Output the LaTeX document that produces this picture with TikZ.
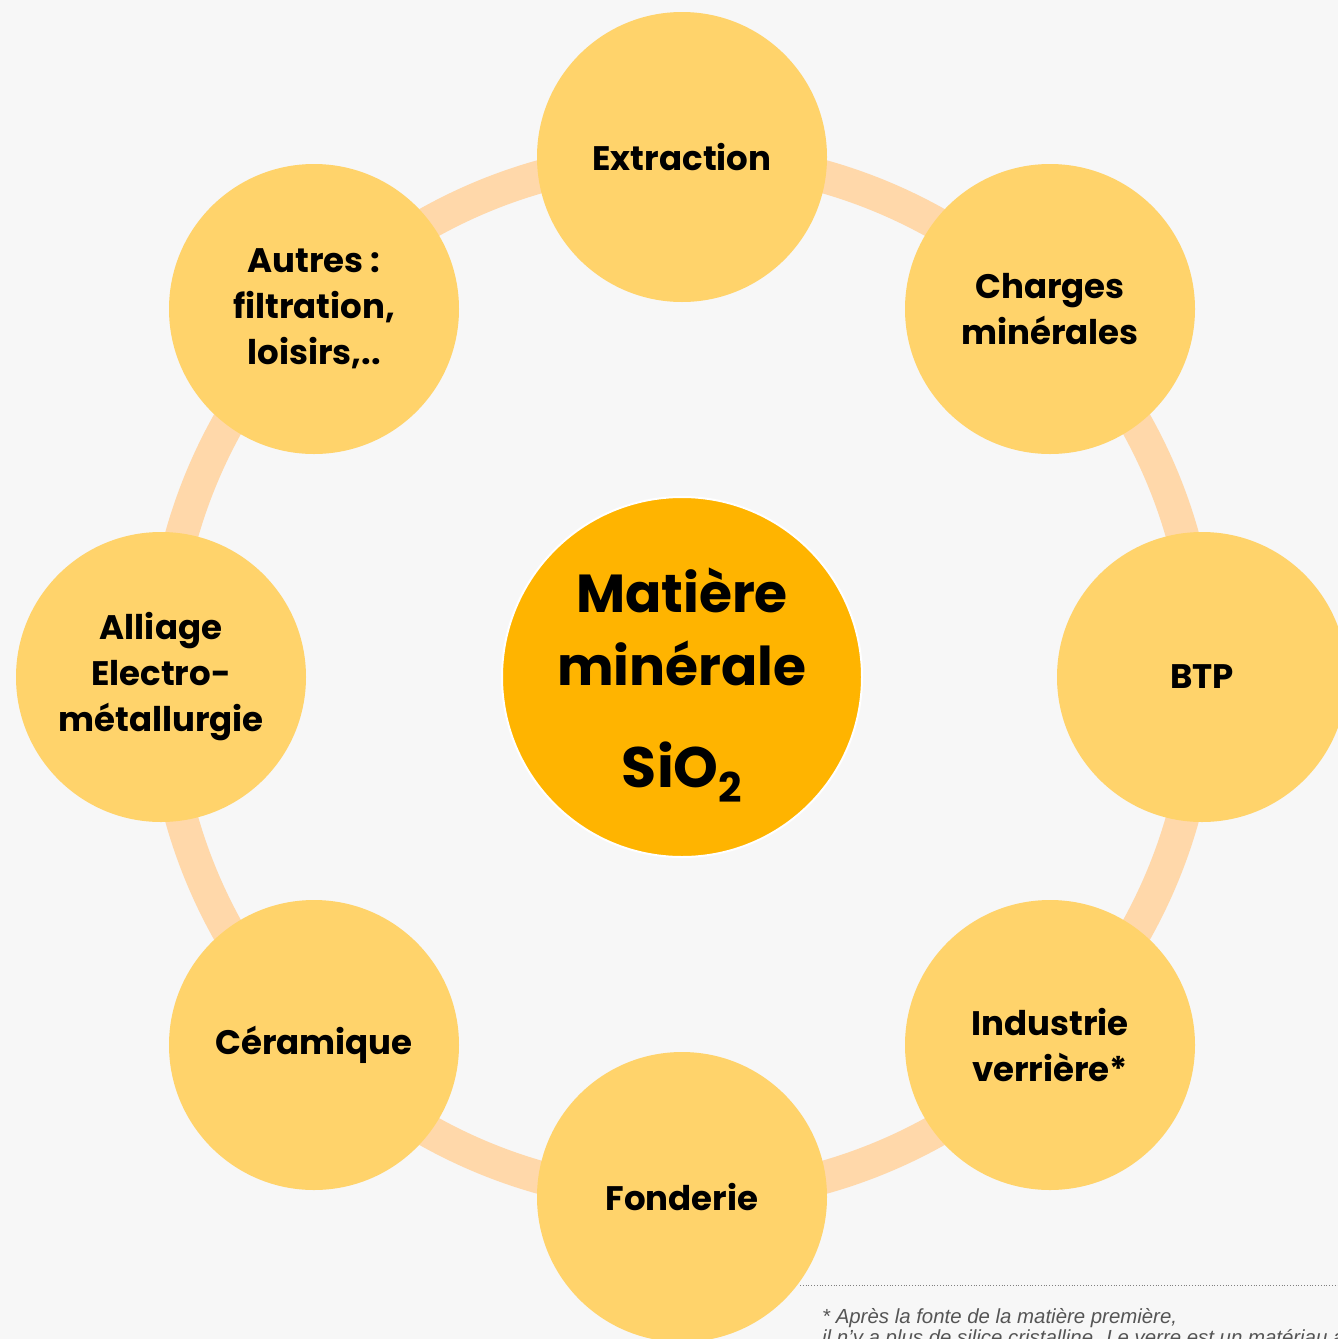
\documentclass[tikz,border=0pt]{standalone}
\usepackage{fontspec}
\setmainfont{Poppins}
\newfontfamily\notefont{Liberation Sans}
\definecolor{bgc}{RGB}{247,247,247}
\definecolor{ringc}{RGB}{255,216,170}
\definecolor{outc}{RGB}{255,211,107}
\definecolor{midc}{RGB}{255,180,0}
\definecolor{notec}{RGB}{85,85,85}
\tikzset{
  satellite/.style={circle, fill=outc, minimum size=290pt, inner sep=0pt, align=center,
    font=\fontsize{34}{46}\selectfont\bfseries, text=black},
  hub/.style={circle, fill=midc, draw=white, line width=2pt, minimum size=360pt, inner sep=0pt},
  hubtext/.style={anchor=base, inner sep=0pt, font=\fontsize{53.5}{60}\selectfont\bfseries, text=black},
  notetext/.style={anchor=base west, inner sep=0pt, font=\notefont\itshape\fontsize{20.4}{20}\selectfont, text=notec},
}
\begin{document}
\begin{tikzpicture}[x=1pt,y=-1pt]
\clip (0,0) rectangle (1338,1339);
\fill[bgc] (0,0) rectangle (1338,1339);
\coordinate (c) at (682,677);
\draw[ringc, line width=33pt] (c) circle[radius=520pt];
\node[hub] (center) at (c) {};
\node[hubtext] (hubline1) at (682,612) {Matière};
\node[hubtext] (hubline2) at (682,685) {minérale};
\node[hubtext, font=\fontsize{57}{60}\selectfont\bfseries] (hubline3) at (682,787) {SiO\raisebox{-0.28em}{\fontsize{41}{41}\selectfont 2}};
\node[satellite] (extraction) at (682,157) {Extraction};
\node[satellite] (charges) at (1050,309) {Charges\\minérales};
\node[satellite] (btp) at (1202,677) {BTP};
\node[satellite] (verre) at (1050,1045) {Industrie\\verrière*};
\node[satellite] (fonderie) at (682,1197) {Fonderie};
\node[satellite] (ceramique) at (314,1045) {Céramique};
\node[satellite] (alliage) at (161,677) {Alliage\\Electro-\\métallurgie};
\node[satellite] (autres) at (314,309) {Autres :\\filtration,\\loisirs,..};
\draw[gray, dotted, line width=0.8pt] (800,1285) -- (1338,1285);
\node[notetext] (note1) at (822,1323) {* Après la fonte de la matière première,};
\node[notetext] (note2) at (822,1344) {il n’y a plus de silice cristalline. Le verre est un matériau amorphe.};
\end{tikzpicture}
\end{document}
